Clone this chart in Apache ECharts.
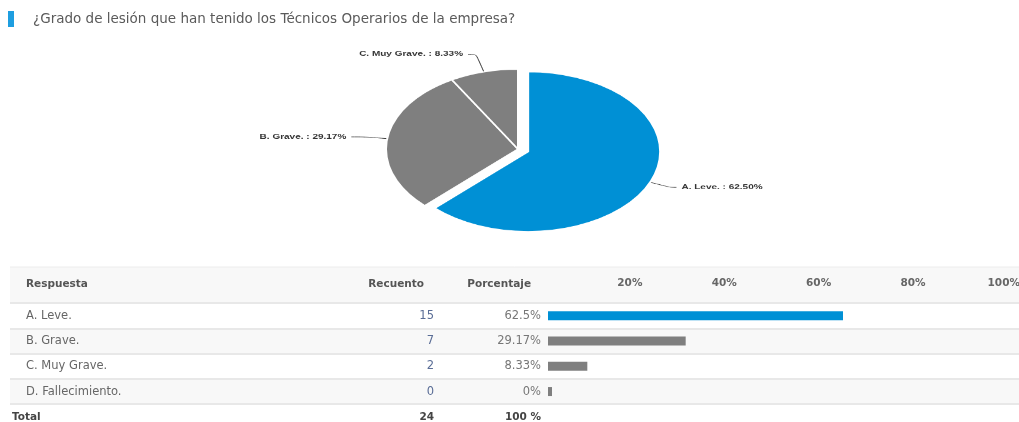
<!DOCTYPE html>
<html>
<head>
<meta charset="utf-8">
<script src="https://cdn.jsdelivr.net/npm/echarts@6/dist/echarts.min.js"></script>
<style>
  html, body { margin: 0; padding: 0; background: #fff; }
  #wrap { position: relative; width: 1019px; height: 422px; overflow: hidden; }
  #main { position: absolute; left: 0; top: 0; width: 1019px; height: 422px; }
  #pie { position: absolute; left: 0; top: 0; width: 1019px; height: 400px;
         transform: scaleY(0.606); transform-origin: 0 0; }
</style>
</head>
<body>
<div id="wrap">
  <div id="main"></div>
  <div id="pie"></div>
</div>
<script>
// ---- data ----
const titleText = '¿Grado de lesión que han tenido los Técnicos Operarios de la empresa?';
const categories = ['A. Leve.', 'B. Grave.', 'C. Muy Grave.', 'D. Fallecimiento.'];
const counts = [15, 7, 2, 0];
const percents = [62.5, 29.17, 8.33, 0];
const percentLabels = ['62.5%', '29.17%', '8.33%', '0%'];
const totalName = 'Total';
const totalPercentLabel = '100 %';
const headers = ['Respuesta', 'Recuento', 'Porcentaje'];

// ---- styles ----
const barColors = ['#0090d5', '#7f7f7f', '#7f7f7f', '#7f7f7f'];
const pieLineLengths = [[22, 6], [22, 14], [30, 8]];

const total = counts.reduce((a, b) => a + b, 0);
const rows = categories.concat([totalName]);
const FONT = 'DejaVu Sans';
const ROWFS = 11.5;

// ---- main chart: title + table + bars ----
const main = echarts.init(document.getElementById('main'));
const gridTop = 303, gridH = 126.5;

function catAxis(gridIndex, extra) {
  return Object.assign({
    type: 'category', gridIndex: gridIndex, data: rows, inverse: true,
    axisLine: { show: false }, axisTick: { show: false }, splitLine: { show: false }
  }, extra);
}
function valAxis(gridIndex) {
  return { type: 'value', gridIndex: gridIndex, show: false, min: 0, max: 100 };
}
function gridAt(left, width) {
  const g = { left: left, top: gridTop, height: gridH, outerBoundsMode: 'none', containLabel: false };
  if (width == null) g.right = 0; else g.width = width;
  return g;
}
const headerStyle = { fontFamily: FONT, fontSize: 10.5, fontWeight: 'bold', fill: '#555', verticalAlign: 'middle' };

main.setOption({
  animation: false,
  textStyle: { fontFamily: FONT },
  title: {
    text: titleText, left: 33, top: 12, padding: 0,
    textStyle: { fontFamily: FONT, fontSize: 13.5, fontWeight: 'normal', color: '#5a5a5a' }
  },
  graphic: [
    { type: 'rect', shape: { x: 8, y: 11, width: 6, height: 16 }, style: { fill: '#1e9ee0' } },
    { type: 'rect', shape: { x: 10, y: 267, width: 1009, height: 36 }, style: { fill: '#f8f8f8' }, z: -10 },
    { type: 'line', shape: { x1: 10, y1: 267, x2: 1019, y2: 267 }, style: { stroke: '#ececec', lineWidth: 1 } },
    { type: 'text', x: 26, y: 284, style: Object.assign({ text: headers[0], align: 'left' }, headerStyle) },
    { type: 'text', x: 424, y: 284, style: Object.assign({ text: headers[1], align: 'right' }, headerStyle) },
    { type: 'text', x: 531, y: 284, style: Object.assign({ text: headers[2], align: 'right' }, headerStyle) }
  ],
  grid: [gridAt(10), gridAt(10, 424), gridAt(10, 531), gridAt(548, 472)],
  xAxis: [
    valAxis(0), valAxis(1), valAxis(2),
    {
      type: 'value', gridIndex: 3, min: 0, max: 100, interval: 20, position: 'top',
      axisLine: { show: false }, axisTick: { show: false }, splitLine: { show: false },
      axisLabel: {
        showMinLabel: false, formatter: '{value}%', align: 'right', margin: 14,
        color: '#666', fontSize: 10.5, fontWeight: 'bold', fontFamily: FONT
      }
    }
  ],
  yAxis: [
    catAxis(0, {
      position: 'left',
      splitArea: { show: true, areaStyle: { color: ['#ffffff', '#f8f8f8'] } },
      splitLine: { show: true, lineStyle: { color: '#e8e8e8', width: 2 } },
      axisLabel: {
        inside: true, margin: 2,
        formatter: (v, i) => i < categories.length ? '{n|' + v + '}' : '{t|' + v + '}',
        rich: {
          n: { padding: [0, 0, 0, 14], color: '#666', fontSize: ROWFS, fontFamily: FONT },
          t: { color: '#444', fontSize: 10.5, fontWeight: 'bold', fontFamily: FONT }
        }
      }
    }),
    catAxis(1, {
      position: 'right',
      axisLabel: {
        inside: true, margin: 0,
        formatter: (v, i) => i < counts.length ? '{n|' + counts[i] + '}' : '{t|' + total + '}',
        rich: {
          n: { color: '#5a6d96', fontSize: ROWFS, fontFamily: FONT },
          t: { color: '#444', fontSize: 10.5, fontWeight: 'bold', fontFamily: FONT }
        }
      }
    }),
    catAxis(2, {
      position: 'right',
      axisLabel: {
        inside: true, margin: 0,
        formatter: (v, i) => i < percentLabels.length ? '{n|' + percentLabels[i] + '}' : '{t|' + totalPercentLabel + '}',
        rich: {
          n: { color: '#777', fontSize: ROWFS, fontFamily: FONT },
          t: { color: '#444', fontSize: 10.5, fontWeight: 'bold', fontFamily: FONT }
        }
      }
    }),
    catAxis(3, { axisLabel: { show: false } })
  ],
  series: [{
    type: 'bar', xAxisIndex: 3, yAxisIndex: 3, barWidth: 9, barMinHeight: 4,
    data: percents.map((p, i) => ({ value: p, itemStyle: { color: barColors[i] } })).concat([null])
  }]
});

// ---- pie chart (squashed vertically like the reference) ----
const pie = echarts.init(document.getElementById('pie'));
const pieData = categories.map((c, i) => ({ name: c, value: counts[i] }))
  .filter(d => d.value > 0)
  .map((d, i) => Object.assign(d, {
    itemStyle: { color: barColors[i] },
    labelLine: { length: pieLineLengths[i][0], length2: pieLineLengths[i][1] },
    selected: i === 0
  }));

pie.setOption({
  animation: false,
  series: [{
    type: 'pie', center: [518, 246], radius: [0, 132], startAngle: 90, clockwise: true,
    selectedMode: 'single', selectedOffset: 11,
    itemStyle: { borderColor: '#fff', borderWidth: 2 },
    label: {
      formatter: p => p.name + ' : ' + p.percent.toFixed(2) + '%',
      color: '#333', fontSize: 10, fontWeight: 'bold',
      fontFamily: 'Liberation Sans, Arial'
    },
    labelLine: { smooth: 0.3, lineStyle: { color: '#333', width: 1 } },
    data: pieData
  }]
});
</script>
</body>
</html>
